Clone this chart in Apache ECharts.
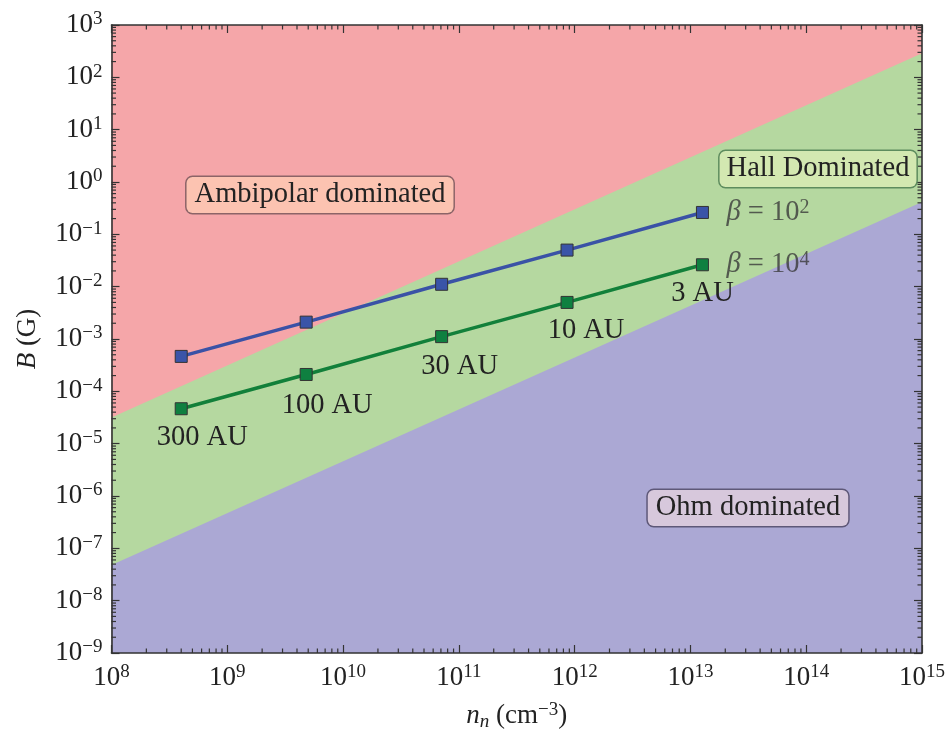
<!DOCTYPE html>
<html>
<head>
<meta charset="utf-8">
<script src="https://cdn.jsdelivr.net/npm/echarts@6/dist/echarts.min.js"></script>
<style>html,body{margin:0;padding:0;background:#fff}#c{width:949px;height:729px}</style>
</head>
<body>
<div id="c"></div>
<script>
// ---- data ----
const densities = [4.0e8, 4.8e9, 7.1e10, 8.6e11, 1.27e13];
const bBeta1e2 = [4.65e-4, 2.1e-3, 1.11e-2, 5.0e-2, 0.262];
const bBeta1e4 = [4.65e-5, 2.1e-4, 1.11e-3, 5.0e-3, 0.0262];
const radiusLabels = ['300 AU', '100 AU', '30 AU', '10 AU', '3 AU'];
const boundaryX = [1e8, 1e15];
const ambiHallB = [3.16e-5, 288];
const hallOhmB = [4.8e-8, 0.417];
const xTickExponents = [8, 9, 10, 11, 12, 13, 14, 15];
const yTickExponents = [-9, -8, -7, -6, -5, -4, -3, -2, -1, 0, 1, 2, 3];
const regionNames = ['Ambipolar dominated', 'Hall Dominated', 'Ohm dominated'];
const betaExponents = [2, 4];

const X_MIN = 1e8, X_MAX = 1e15, Y_MIN = 1e-9, Y_MAX = 1e3;
const FONT = "'Liberation Serif', 'DejaVu Serif', serif";
const TXT = 28.5;

function supLabel(v) {
  const e = Math.round(Math.log10(v));
  return '{b|10}{s|' + (e < 0 ? '\u2212' + (-e) : e) + '}';
}
const tickRich = {
  b: { fontFamily: FONT, fontSize: 27, color: '#222', lineHeight: 30 },
  s: { fontFamily: FONT, fontSize: 19, color: '#222', lineHeight: 19, verticalAlign: 'top' }
};

// minor tick values (decoration)
const xMinor = [], yMinor = [];
for (let e = xTickExponents[0]; e < xTickExponents[xTickExponents.length - 1]; e++)
  for (let k = 2; k <= 9; k++) xMinor.push(k * Math.pow(10, e));
for (let e = yTickExponents[0]; e < yTickExponents[yTickExponents.length - 1]; e++)
  for (let k = 2; k <= 9; k++) yMinor.push(k * Math.pow(10, e));

const axisLineStyle = { color: '#333', width: 1.6 };
const labelOffsets = [[21, 29], [21, 31], [18, 30], [19, 28], [0, 29]];

function betaRich() {
  return {
    i: { fontFamily: FONT, fontStyle: 'italic', fontSize: TXT, color: '#3a3a3a', lineHeight: 30 },
    t: { fontFamily: FONT, fontSize: TXT, color: '#3a3a3a', lineHeight: 30 },
    s: { fontFamily: FONT, fontSize: 20, color: '#3a3a3a', lineHeight: 20, verticalAlign: 'top' }
  };
}

const chart = echarts.init(document.getElementById('c'), null, { renderer: 'canvas' });

const minorTickSeries = {
  type: 'custom',
  coordinateSystem: 'cartesian2d',
  silent: true,
  z: 20,
  clip: false,
  data: xMinor.map(v => [v, 'x']).concat(yMinor.map(v => [v, 'y'])),
  renderItem: function (params, api) {
    const v = api.value(0);
    const isX = params.dataIndex < xMinor.length;
    const st = { stroke: '#333', lineWidth: 1.2 };
    const L = 4.5;
    if (isX) {
      const b = api.coord([v, Y_MIN]);
      const t = api.coord([v, Y_MAX]);
      return { type: 'group', children: [
        { type: 'line', shape: { x1: b[0], y1: b[1], x2: b[0], y2: b[1] - L }, style: st },
        { type: 'line', shape: { x1: t[0], y1: t[1], x2: t[0], y2: t[1] + L }, style: st }
      ]};
    } else {
      const l = api.coord([X_MIN, v]);
      const r = api.coord([X_MAX, v]);
      return { type: 'group', children: [
        { type: 'line', shape: { x1: l[0], y1: l[1], x2: l[0] + L, y2: l[1] }, style: st },
        { type: 'line', shape: { x1: r[0], y1: r[1], x2: r[0] - L, y2: r[1] }, style: st }
      ]};
    }
  },
  encode: { x: 0 }
};

const last = densities.length - 1;

const option = {
  animation: false,
  backgroundColor: '#fff',
  grid: { left: 111.5, right: 27, top: 25, bottom: 76, show: true, backgroundColor: '#f5a6a9', borderWidth: 0,
          containLabel: false, outerBoundsMode: 'none' },
  xAxis: [
    {
      type: 'log', logBase: 10, min: X_MIN, max: X_MAX, interval: 1,
      position: 'bottom', z: 10,
      axisLine: { show: true, lineStyle: axisLineStyle },
      axisTick: { show: true, inside: true, length: 8, lineStyle: { color: '#333', width: 1.2 } },
      splitLine: { show: false },
      axisLabel: { formatter: supLabel, rich: tickRich, margin: 10 },
      name: '{i|n}{sub|n}{t| (cm}{s|\u22123}{t|)}',
      nameLocation: 'middle', nameGap: 48,
      nameTextStyle: { rich: {
        i: { fontFamily: FONT, fontStyle: 'italic', fontSize: 27, color: '#222', lineHeight: 30 },
        sub: { fontFamily: FONT, fontStyle: 'italic', fontSize: 19, color: '#222', lineHeight: 19, verticalAlign: 'bottom' },
        t: { fontFamily: FONT, fontSize: 27, color: '#222', lineHeight: 30 },
        s: { fontFamily: FONT, fontSize: 19, color: '#222', lineHeight: 19, verticalAlign: 'top' }
      } }
    },
    {
      type: 'log', logBase: 10, min: X_MIN, max: X_MAX, interval: 1,
      position: 'top', z: 10,
      axisLine: { show: true, lineStyle: axisLineStyle },
      axisTick: { show: true, inside: true, length: 8, lineStyle: { color: '#333', width: 1.2 } },
      splitLine: { show: false },
      axisLabel: { show: false }
    }
  ],
  yAxis: [
    {
      type: 'log', logBase: 10, min: Y_MIN, max: Y_MAX, interval: 1,
      position: 'left', z: 10,
      axisLine: { show: true, lineStyle: axisLineStyle },
      axisTick: { show: true, inside: true, length: 8, lineStyle: { color: '#333', width: 1.2 } },
      splitLine: { show: false },
      axisLabel: { formatter: supLabel, rich: tickRich, margin: 9 },
      name: '{i|B}{t| (G)}',
      nameLocation: 'middle', nameGap: 70, nameRotate: 90,
      nameTextStyle: { rich: {
        i: { fontFamily: FONT, fontStyle: 'italic', fontSize: 27, color: '#222' },
        t: { fontFamily: FONT, fontSize: 27, color: '#222' }
      } }
    },
    {
      type: 'log', logBase: 10, min: Y_MIN, max: Y_MAX, interval: 1,
      position: 'right', z: 10,
      axisLine: { show: true, lineStyle: axisLineStyle },
      axisTick: { show: true, inside: true, length: 8, lineStyle: { color: '#333', width: 1.2 } },
      splitLine: { show: false },
      axisLabel: { show: false }
    }
  ],
  series: [
    {
      type: 'line', silent: true, symbol: 'none', z: 1,
      data: boundaryX.map((x, i) => [x, ambiHallB[i]]),
      lineStyle: { width: 0 },
      areaStyle: { color: '#b5d8a0', opacity: 1, origin: 'start' }
    },
    {
      type: 'line', silent: true, symbol: 'none', z: 1,
      data: boundaryX.map((x, i) => [x, hallOhmB[i]]),
      lineStyle: { width: 0 },
      areaStyle: { color: '#aba8d4', opacity: 1, origin: 'start' }
    },
    {
      type: 'line', z: 5,
      data: densities.map((x, i) => [x, bBeta1e2[i]]),
      symbol: 'rect', symbolSize: 12,
      lineStyle: { color: '#3a52a6', width: 3.5 },
      itemStyle: { color: '#3a54a8', borderColor: '#333', borderWidth: 1 }
    },
    {
      type: 'line', z: 5,
      data: densities.map((x, i) => ({
        value: [x, bBeta1e4[i]],
        label: {
          show: true, position: 'inside',
          offset: labelOffsets[i],
          formatter: radiusLabels[i],
          fontFamily: FONT, fontSize: TXT, color: '#222'
        }
      })),
      symbol: 'rect', symbolSize: 12,
      lineStyle: { color: '#12803a', width: 3.5 },
      itemStyle: { color: '#0f8040', borderColor: '#333', borderWidth: 1 }
    },
    {
      type: 'scatter', z: 6, silent: true,
      data: [[densities[last], bBeta1e2[last]], [densities[last], bBeta1e4[last]]],
      symbol: 'rect', symbolSize: 12,
      itemStyle: { color: 'rgba(0,0,0,0)' },
      label: {
        show: true, position: 'right', distance: 18,
        formatter: function (p) { return '{i|\u03b2}{t| = 10}{s|' + betaExponents[p.dataIndex] + '}'; },
        rich: betaRich()
      }
    },
    minorTickSeries
  ],
  graphic: [
    { type: 'text', z: 30, x: 320, y: 195, style: {
      text: regionNames[0], font: TXT + 'px ' + FONT, fill: '#222', align: 'center', verticalAlign: 'middle',
      backgroundColor: '#fcc3b1', borderColor: '#8c6468', borderWidth: 1.5, borderRadius: 6, padding: [4, 8, 3, 8] } },
    { type: 'text', z: 30, x: 818, y: 169, style: {
      text: regionNames[1], font: TXT + 'px ' + FONT, fill: '#222', align: 'center', verticalAlign: 'middle',
      backgroundColor: '#d3e8b1', borderColor: '#5e8c5e', borderWidth: 1.5, borderRadius: 6, padding: [4, 7, 3, 7] } },
    { type: 'text', z: 30, x: 748, y: 508, style: {
      text: regionNames[2], font: TXT + 'px ' + FONT, fill: '#222', align: 'center', verticalAlign: 'middle',
      backgroundColor: '#d7c8dc', borderColor: '#5e5878', borderWidth: 1.5, borderRadius: 6, padding: [4, 8, 3, 8] } }
  ]
};
chart.setOption(option);
</script>
</body>
</html>
